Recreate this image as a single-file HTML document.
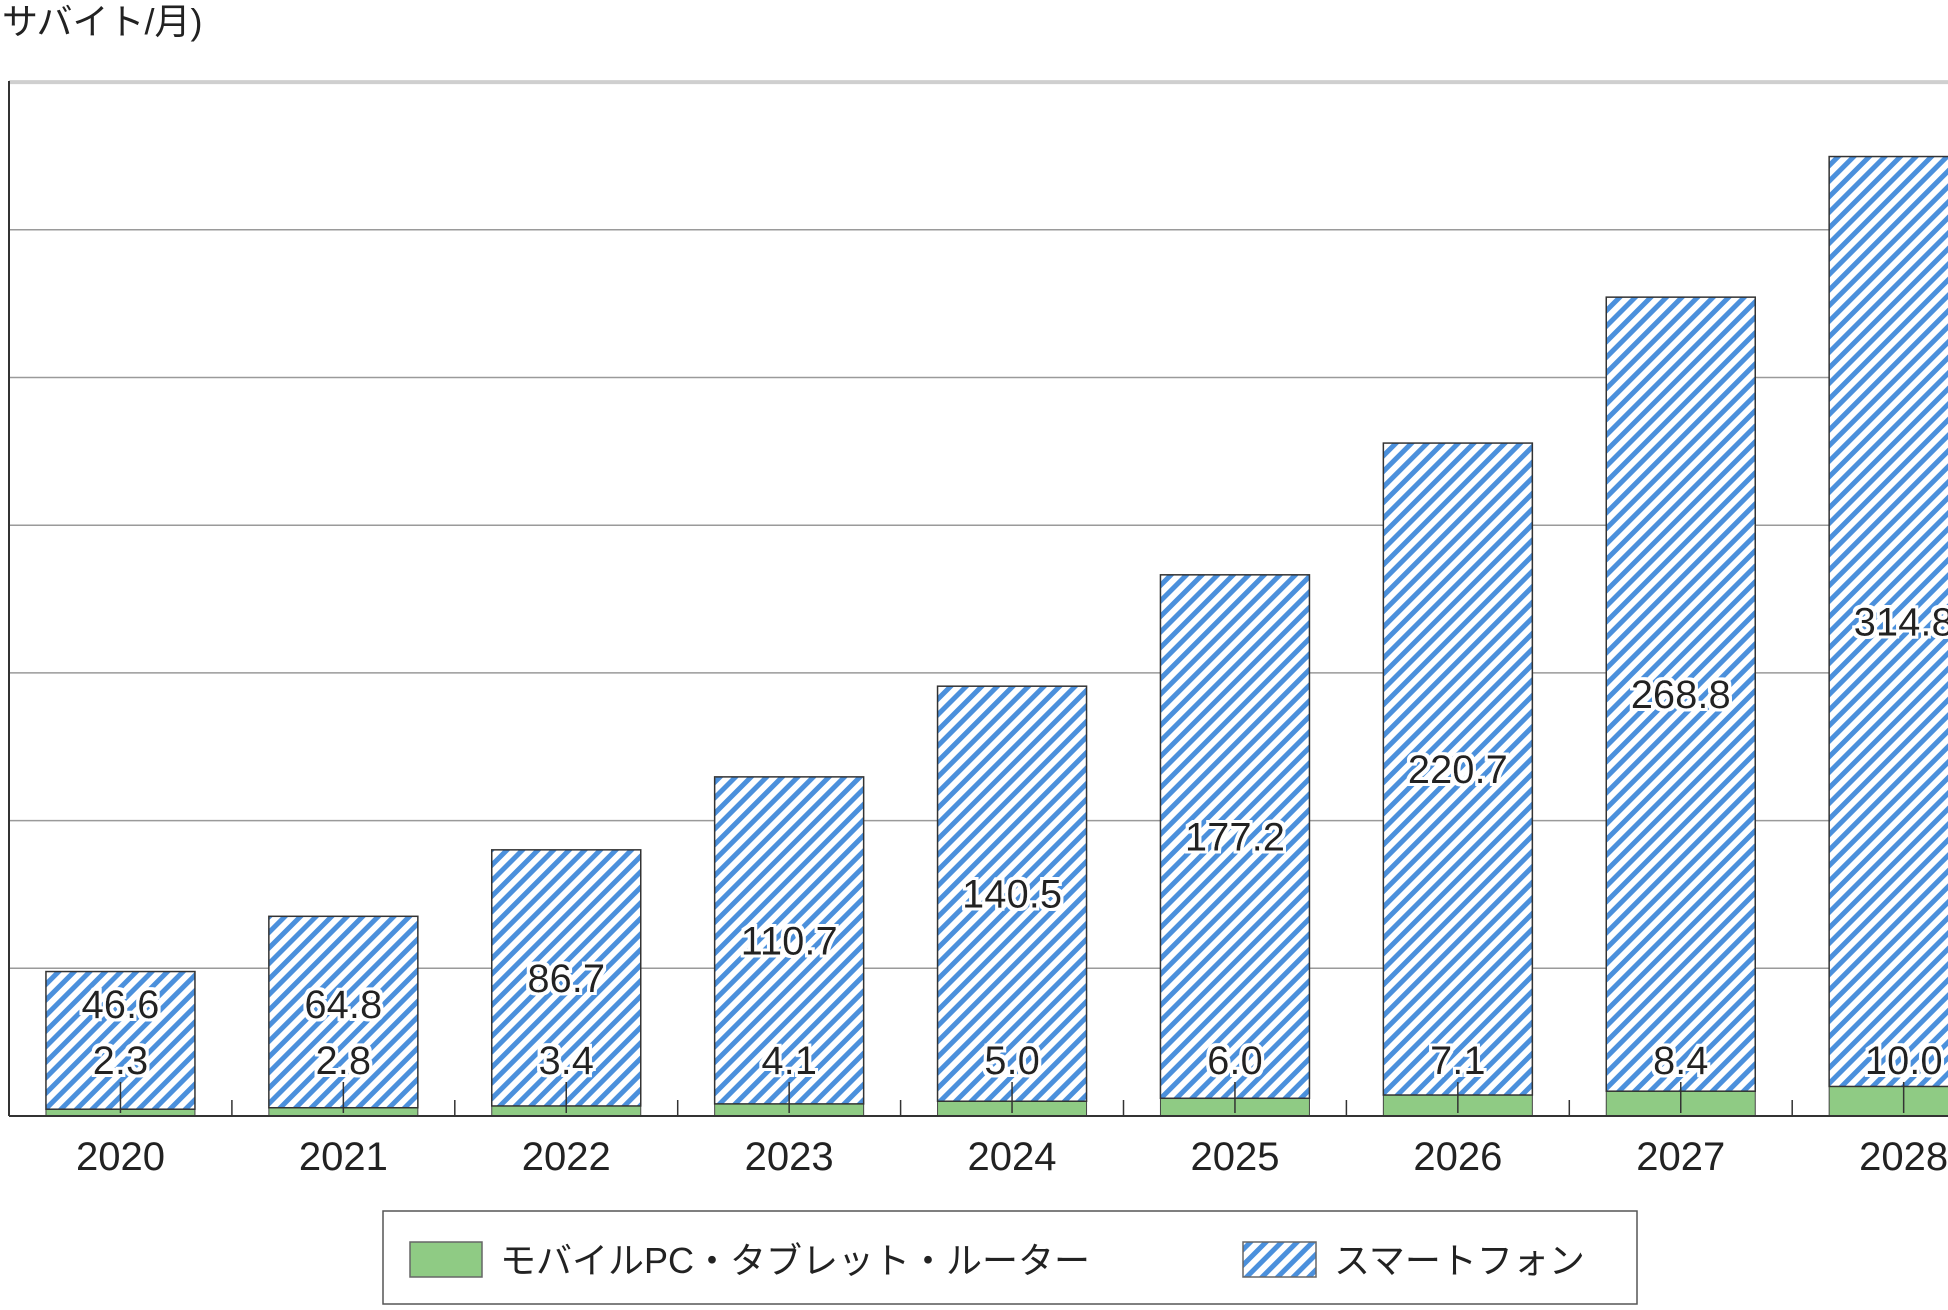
<!DOCTYPE html>
<html><head><meta charset="utf-8">
<style>
html,body{margin:0;padding:0;background:#fff;}
svg{display:block;font-family:"Liberation Sans","Noto Sans CJK JP",sans-serif;}
</style></head>
<body>
<svg id="chart" width="1948" height="1310" viewBox="0 0 1948 1310" xmlns="http://www.w3.org/2000/svg">
<defs>
<pattern id="hatch" patternUnits="userSpaceOnUse" width="11" height="11" patternTransform="rotate(45)">
<rect width="11" height="11" fill="#ffffff"/>
<rect x="0" y="0" width="5" height="11" fill="#4b90dc"/>
</pattern>
<filter id="halo" x="-20%" y="-20%" width="140%" height="140%">
<feMorphology in="SourceAlpha" operator="dilate" radius="3" result="d"/>
<feFlood flood-color="#fff"/><feComposite in2="d" operator="in" result="w"/>
<feMerge><feMergeNode in="w"/><feMergeNode in="SourceGraphic"/></feMerge>
</filter>
</defs>
<text x="2" y="34" font-size="36" fill="#222">サバイト/月)</text>
<g id="grid"></g>
<g id="bars"></g>
<g id="axis"></g>
<g id="labels"></g>
<g>
<rect x="383" y="1211" width="1254" height="93" fill="#fff" stroke="#555" stroke-width="1.5"/>
<rect x="410" y="1242" width="72" height="35" fill="#8fcb84" stroke="#666" stroke-width="1.5"/>
<text x="500" y="1273" font-size="36" fill="#222">モバイルPC・タブレット・ルーター</text>
<rect x="1243" y="1242" width="73" height="35" fill="url(#hatch)" stroke="#666" stroke-width="1.5"/>
<text x="1334" y="1273" font-size="36" fill="#222">スマートフォン</text>
</g>
</svg>
<script>
const categories = ["2020","2021","2022","2023","2024","2025","2026","2027","2028"];
const mobileValues = [2.3,2.8,3.4,4.1,5.0,6.0,7.1,8.4,10.0];
const smartphoneValues = [46.6,64.8,86.7,110.7,140.5,177.2,220.7,268.8,314.8];
const mobileLabels = ["2.3","2.8","3.4","4.1","5.0","6.0","7.1","8.4","10.0"];
const smartphoneLabels = ["46.6","64.8","86.7","110.7","140.5","177.2","220.7","268.8","314.8"];
const gridValues = [0,50,100,150,200,250,300,350];

const NS="http://www.w3.org/2000/svg";
const plotLeft=9, baseY=1116, pxPerUnit=147.7/50, catW=222.9, barW=149;
function y(v){return baseY - v*pxPerUnit;}
function cx(i){return plotLeft + catW*(i+0.5);}
function mk(tag,attrs,parent){const e=document.createElementNS(NS,tag);for(const k in attrs)e.setAttribute(k,attrs[k]);parent.appendChild(e);return e;}
const grid=document.getElementById('grid'),bars=document.getElementById('bars'),axis=document.getElementById('axis'),labels=document.getElementById('labels');

gridValues.forEach((g,i)=>{
  if(g===0)return;
  const top=i===gridValues.length-1;
  const l=mk('line',{x1:plotLeft,x2:1948,y1:y(g),y2:y(g),stroke:top?'#cfcfcf':'#9a9a9a','stroke-width':top?4:1.5},grid);
  
  
});

categories.forEach((c,i)=>{
  const x=cx(i)-barW/2;
  const m=mobileValues[i], s=smartphoneValues[i];
  const r1=mk('rect',{x:x,y:y(m),width:barW,height:m*pxPerUnit,fill:'#8fcb84',stroke:'#444','stroke-width':1},bars);
  
  
  const r2=mk('rect',{x:x,y:y(m+s),width:barW,height:s*pxPerUnit,fill:'url(#hatch)',stroke:'#333','stroke-width':1.5},bars);
  
  
  // leader line
  const ld=mk('line',{x1:cx(i),x2:cx(i),y1:1082,y2:y(0)-3,stroke:'#333','stroke-width':1.5},labels);
  
  
  const t1=mk('text',{x:cx(i),y:1074,'font-size':40,'text-anchor':'middle',fill:'#222',filter:'url(#halo)'},labels);
  t1.textContent=mobileLabels[i];
  
  
  const mid=(y(m)+y(m+s))/2;
  const ty=Math.min(mid,1004)+14;
  const t2=mk('text',{x:cx(i),y:ty,'font-size':40,'text-anchor':'middle',fill:'#222',filter:'url(#halo)'},labels);
  t2.textContent=smartphoneLabels[i];
  
  
  const yl=mk('text',{x:cx(i),y:1170,'font-size':40,'text-anchor':'middle',fill:'#222'},axis);
  yl.textContent=c;
  
  
  if(i>0){
    const tk=mk('line',{x1:plotLeft+catW*i,x2:plotLeft+catW*i,y1:baseY-16,y2:baseY,stroke:'#333','stroke-width':1.5},axis);
    
    
  }
});
const yax=mk('line',{x1:plotLeft,x2:plotLeft,y1:81,y2:baseY,stroke:'#333','stroke-width':2},axis);


const xax=mk('line',{x1:plotLeft,x2:1948,y1:baseY,y2:baseY,stroke:'#333','stroke-width':2},axis);


</script>
</body></html>
